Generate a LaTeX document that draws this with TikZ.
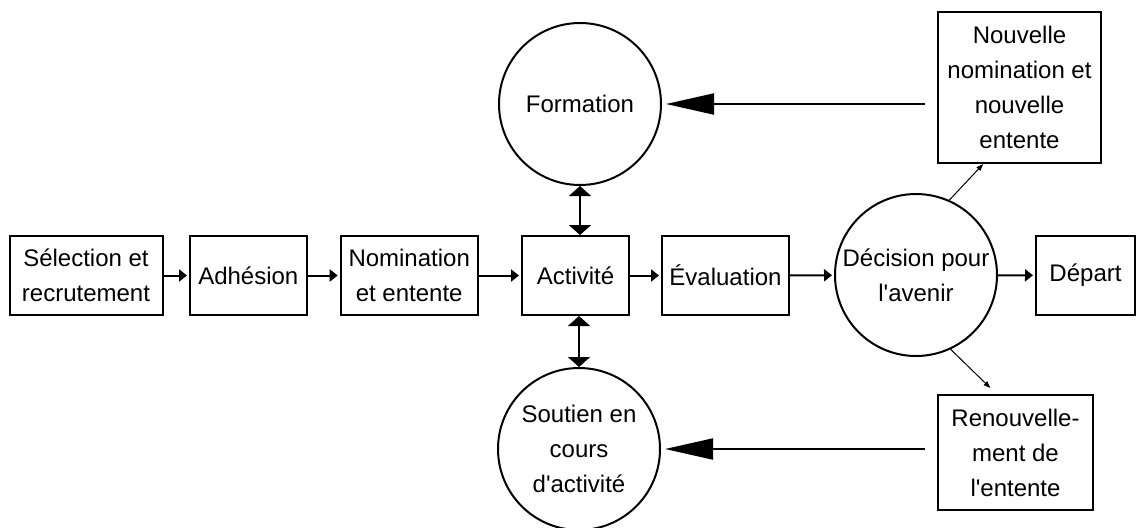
\documentclass[tikz,border=0pt]{standalone}
\usepackage{fontspec}
\setmainfont{Liberation Sans}
\usetikzlibrary{calc, arrows.meta}
\tikzset{
    etape/.style={draw, line width=1pt, align=center, inner sep=0pt,
        font=\fontsize{12}{17.5}\selectfont, minimum height=39.5pt},
    bulle/.style={draw, circle, line width=1pt, align=center, inner sep=0pt,
        font=\fontsize{12}{17.5}\selectfont, minimum size=81pt},
    suite/.style={line width=1pt, -{Triangle[length=4pt, width=6pt]}, shorten >=1pt},
    retour/.style={line width=1pt, -{Triangle[length=24pt, width=10.5pt]},
        shorten <=6pt, shorten >=2pt},
    echange/.style={line width=1pt, {Triangle[length=5pt, width=11pt]}-{Triangle[length=5pt, width=11pt]}},
    choix/.style={line width=0.5pt, -{Triangle[length=3.5pt, width=2.5pt]}}
}
\begin{document}
\begin{tikzpicture}[x=0.5pt, y=-0.5pt]
    \useasboundingbox (0,0) rectangle (1136,527);

    % la suite des etapes
    \node[etape, minimum width=76.5pt] (sel) at (86,275.5) {Sélection et\\recrutement};
    \node[etape, minimum width=58.3pt] (adh) at (248.3,275.5) {Adhésion};
    \node[etape, minimum width=68.5pt] (nom) at (409.2,275.5) {Nomination\\et entente};
    \node[etape, minimum width=53.5pt] (act) at (575.5,275.5) {Activité};
    \node[etape, minimum width=63.5pt] (eval) at (725.5,275.5) {Évaluation};
    \node[bulle] (dec) at (916,275) {Décision pour\\l\textquotesingle avenir};
    \node[etape, minimum width=49.5pt] (dep) at (1085.5,275.5) {Départ};

    \node[bulle] (form) at (580,104) {Formation};
    \node[bulle] (sout) at (579,449) {Soutien en\\cours\\d\textquotesingle activité};

    \node[etape, minimum width=81.5pt, minimum height=75.5pt] (nouv) at (1019.5,87.5)
        {Nouvelle\\nomination et\\nouvelle\\entente};
    \node[etape, minimum width=77.5pt, minimum height=57.5pt] (renouv) at (1015.5,452.5)
        {Renouvelle-\\ment de\\l\textquotesingle entente};

    \foreach \a/\b in {sel/adh, adh/nom, nom/act, act/eval, eval/dec, dec/dep} {
        \draw[suite] (\a) -- (\b);
    }

    \draw[echange] (form.south) -- (form.south |- act.north);
    \draw[echange] (sout.north |- act.south) -- (sout.north);

    \draw[retour] (nouv.west |- form.east) -- (form.east);
    \draw[retour] (renouv.west |- sout.east) -- (sout.east);

    \draw[choix] (dec.66) -- ($(nouv.south west)!0.28!(nouv.south east)$);
    \draw[choix] (dec.-65) -- ($(renouv.north west)!0.34!(renouv.north east)+(0,-6)$);
\end{tikzpicture}
\end{document}
